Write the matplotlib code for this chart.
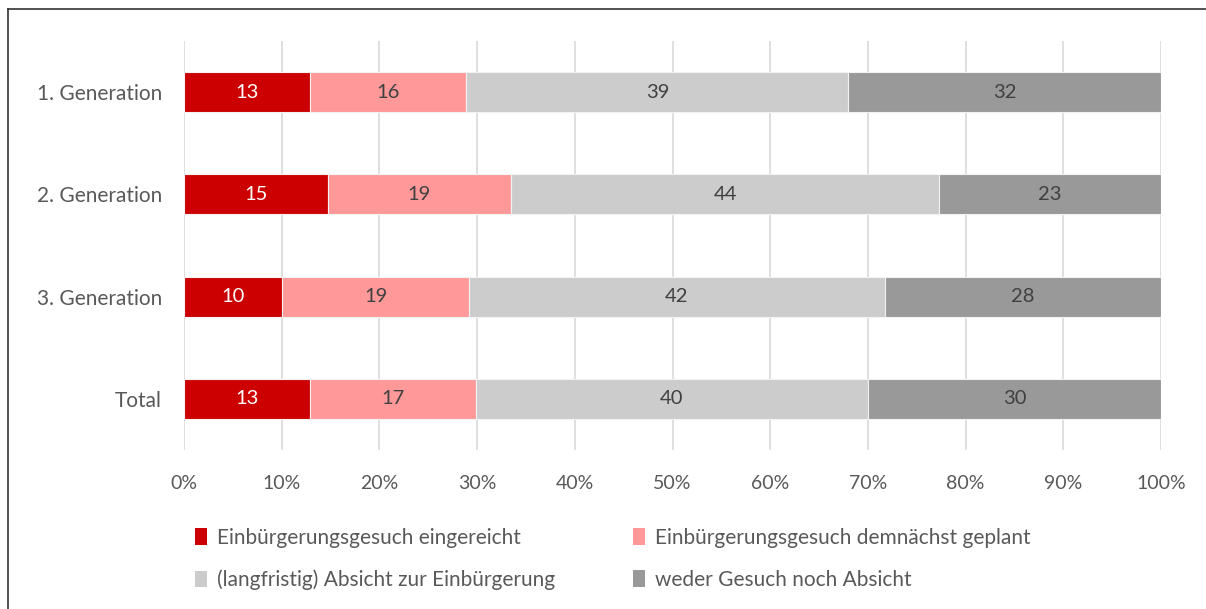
import matplotlib
matplotlib.use("Agg")
import matplotlib.pyplot as plt
from matplotlib.lines import Line2D
import numpy as np

plt.rcParams["font.family"] = ["Lato", "DejaVu Sans"]

categories = ["1. Generation", "2. Generation", "3. Generation", "Total"]
series_names = ["Einbürgerungsgesuch eingereicht",
                "Einbürgerungsgesuch demnächst geplant",
                "(langfristig) Absicht zur Einbürgerung",
                "weder Gesuch noch Absicht"]
# shares in % (bar widths)
eingereicht = [12.9, 14.7, 10.0, 12.9]
geplant = [16.0, 18.8, 19.2, 17.0]
absicht = [39.1, 43.8, 42.5, 40.1]
weder = [32.0, 22.7, 28.3, 30.0]
# printed labels
lab_eingereicht = [13, 15, 10, 13]
lab_geplant = [16, 19, 19, 17]
lab_absicht = [39, 44, 42, 40]
lab_weder = [32, 23, 28, 30]

colors = ["#CC0000", "#FF9999", "#CCCCCC", "#999999"]
text_colors = ["white", "#404040", "#404040", "#404040"]
GREY = "#595959"
FS = 14

fig = plt.figure(figsize=(12.06, 6.09), dpi=100)
ax = fig.add_axes([184 / 1206, 1 - 450 / 609, (1161 - 184) / 1206, (450 - 41) / 609])

y = np.arange(len(categories))
left = np.zeros(len(categories))
handles = []
for vals, labs, col, tc, name in zip([eingereicht, geplant, absicht, weder],
                                     [lab_eingereicht, lab_geplant, lab_absicht, lab_weder],
                                     colors, text_colors, series_names):
    vals = np.array(vals)
    bars = ax.barh(y, vals, left=left, height=0.39, color=col, edgecolor="#F2F2F2",
                   linewidth=0.8, label=name, zorder=3)
    handles.append(bars)
    for yi, l, v, lab in zip(y, left, vals, labs):
        ax.text(l + v / 2, yi, str(lab), ha="center", va="center", color=tc, fontsize=FS + 0.5, zorder=4)
    left = left + vals

ax.set_xlim(0, 100)
ax.set_ylim(3.5, -0.5)
ax.set_xticks(np.arange(0, 101, 10))
ax.set_xticklabels([f"{t}%" for t in range(0, 101, 10)])
ax.set_yticks(y)
ax.set_yticklabels(categories)
ax.tick_params(axis="both", length=0, colors=GREY, labelsize=FS)
ax.tick_params(axis="x", pad=18)
ax.tick_params(axis="y", pad=16, labelsize=FS + 1)
ax.xaxis.grid(True, color="#D9D9D9", linewidth=1.2, zorder=0)
for s in ax.spines.values():
    s.set_visible(False)

order = [0, 2, 1, 3]
leg = fig.legend([handles[i] for i in order], [series_names[i] for i in order],
                 ncol=2, loc="upper left", bbox_to_anchor=(176 / 1206, 1 - 509 / 609),
                 frameon=False, fontsize=FS + 1, handlelength=0.6, handleheight=0.85,
                 handletextpad=0.45, columnspacing=3.75, labelspacing=1.05, labelcolor=GREY)
for h in leg.legend_handles:
    h.set_edgecolor("none")

# chart frame (left and top edges visible)
fig.add_artist(Line2D([8 / 1206, 8 / 1206], [0, 1 - 9 / 609], color="#333333", lw=1.2))
fig.add_artist(Line2D([8 / 1206, 1], [1 - 9 / 609, 1 - 9 / 609], color="#333333", lw=1.2))

fig.savefig("out.png", dpi=100)
